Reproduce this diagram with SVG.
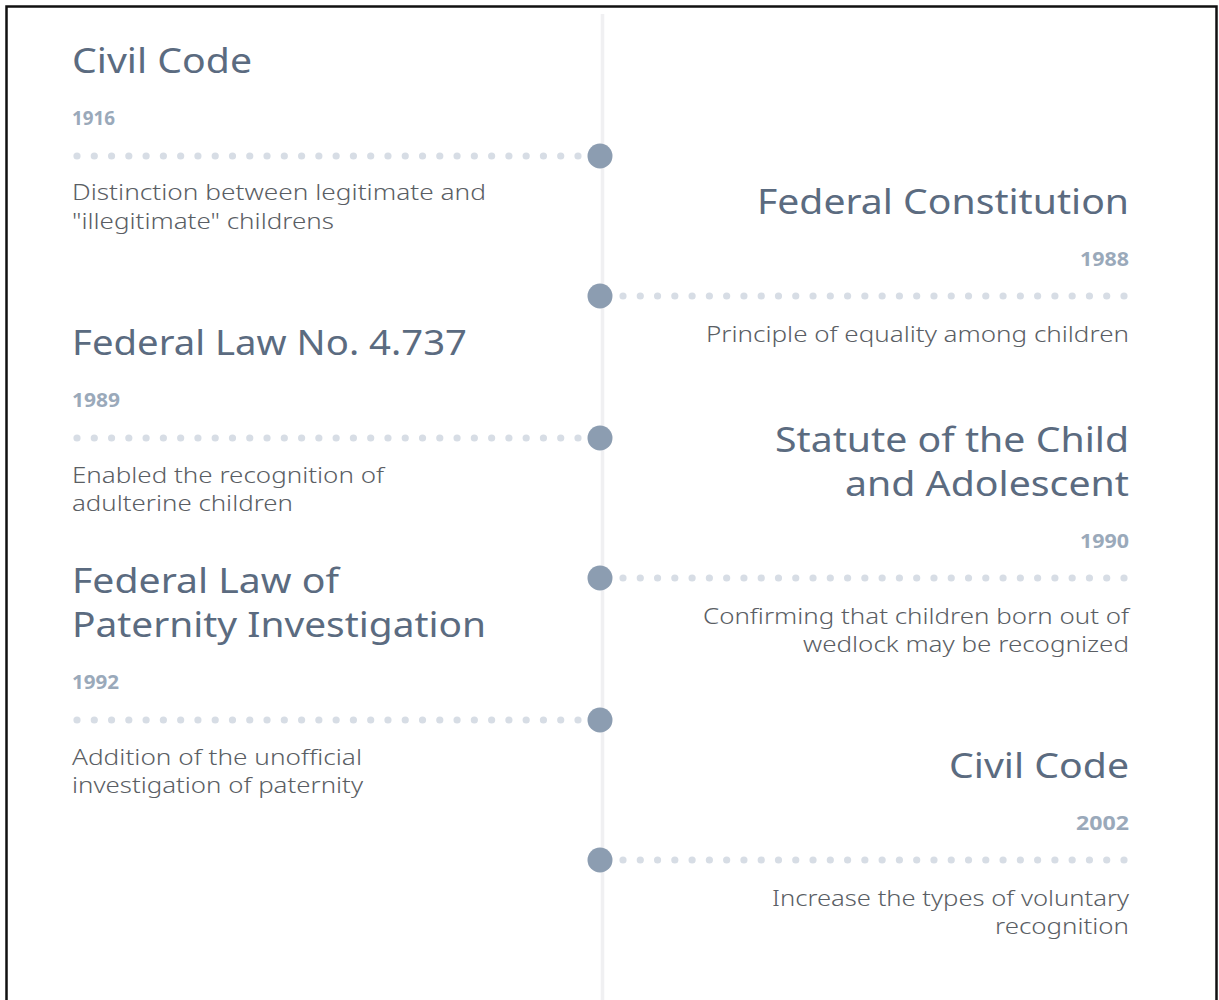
<svg xmlns="http://www.w3.org/2000/svg" width="1219" height="1000" viewBox="0 0 1219 1000">
<style>
.t{font-family:"Noto Sans","Liberation Sans",sans-serif;font-size:34px;fill:#5b6b80}
.y{font-family:"Noto Sans","Liberation Sans",sans-serif;font-size:19px;font-weight:700;fill:#9aa9ba}
.d{font-family:"Noto Sans","Liberation Sans",sans-serif;font-size:22px;font-weight:300;fill:#5a5e64}
.r{text-anchor:end}
.dot{fill:#d7dde5}
.hub{fill:#8c9db1}
</style>
<defs>
<g id="dotrow">
<circle class="dot" cx="0" cy="0" r="3.6"/><circle class="dot" cx="17.28" cy="0" r="3.6"/><circle class="dot" cx="34.55" cy="0" r="3.6"/><circle class="dot" cx="51.83" cy="0" r="3.6"/><circle class="dot" cx="69.1" cy="0" r="3.6"/><circle class="dot" cx="86.38" cy="0" r="3.6"/><circle class="dot" cx="103.66" cy="0" r="3.6"/><circle class="dot" cx="120.93" cy="0" r="3.6"/><circle class="dot" cx="138.21" cy="0" r="3.6"/><circle class="dot" cx="155.48" cy="0" r="3.6"/><circle class="dot" cx="172.76" cy="0" r="3.6"/><circle class="dot" cx="190.03" cy="0" r="3.6"/><circle class="dot" cx="207.31" cy="0" r="3.6"/><circle class="dot" cx="224.59" cy="0" r="3.6"/><circle class="dot" cx="241.86" cy="0" r="3.6"/><circle class="dot" cx="259.14" cy="0" r="3.6"/><circle class="dot" cx="276.41" cy="0" r="3.6"/><circle class="dot" cx="293.69" cy="0" r="3.6"/><circle class="dot" cx="310.97" cy="0" r="3.6"/><circle class="dot" cx="328.24" cy="0" r="3.6"/><circle class="dot" cx="345.52" cy="0" r="3.6"/><circle class="dot" cx="362.79" cy="0" r="3.6"/><circle class="dot" cx="380.07" cy="0" r="3.6"/><circle class="dot" cx="397.34" cy="0" r="3.6"/><circle class="dot" cx="414.62" cy="0" r="3.6"/><circle class="dot" cx="431.9" cy="0" r="3.6"/><circle class="dot" cx="449.17" cy="0" r="3.6"/><circle class="dot" cx="466.45" cy="0" r="3.6"/><circle class="dot" cx="483.72" cy="0" r="3.6"/><circle class="dot" cx="501" cy="0" r="3.6"/>
</g>
</defs>
<rect x="0" y="0" width="1219" height="1000" fill="#ffffff"/>
<path d="M6.5 1000 V6.5 H1216.5 V1000" fill="none" stroke="#111" stroke-width="2.5"/>
<g id="connectors">
<line x1="602.5" y1="14" x2="602.5" y2="1000" stroke="#f0f0f2" stroke-width="3.5"/>
<use href="#dotrow" x="77" y="156"/>
<use href="#dotrow" x="623" y="296"/>
<use href="#dotrow" x="77" y="438"/>
<use href="#dotrow" x="623" y="578"/>
<use href="#dotrow" x="77" y="720"/>
<use href="#dotrow" x="623" y="860"/>
</g>
<g id="civil-code-1916">
<circle class="hub" cx="600" cy="156" r="12.5"/>
<text class="t" x="72" y="73" textLength="180" lengthAdjust="spacingAndGlyphs">Civil Code</text>
<text class="y" x="72" y="125" textLength="43" lengthAdjust="spacingAndGlyphs">1916</text>
<text class="d" x="72" y="200" textLength="414" lengthAdjust="spacingAndGlyphs">Distinction between legitimate and</text>
<text class="d" x="72" y="229" textLength="262" lengthAdjust="spacingAndGlyphs">"illegitimate" childrens</text>
</g>
<g id="federal-constitution-1988">
<circle class="hub" cx="600" cy="296" r="12.5"/>
<text class="t r" x="1129" y="214" textLength="372" lengthAdjust="spacingAndGlyphs">Federal Constitution</text>
<text class="y r" x="1129" y="266" textLength="49" lengthAdjust="spacingAndGlyphs">1988</text>
<text class="d r" x="1129" y="342" textLength="423" lengthAdjust="spacingAndGlyphs">Principle of equality among children</text>
</g>
<g id="federal-law-4737-1989">
<circle class="hub" cx="600" cy="438" r="12.5"/>
<text class="t" x="72" y="355" textLength="395" lengthAdjust="spacingAndGlyphs">Federal Law No. 4.737</text>
<text class="y" x="72" y="407" textLength="48" lengthAdjust="spacingAndGlyphs">1989</text>
<text class="d" x="72" y="483" textLength="312" lengthAdjust="spacingAndGlyphs">Enabled the recognition of</text>
<text class="d" x="72" y="511" textLength="221" lengthAdjust="spacingAndGlyphs">adulterine children</text>
</g>
<g id="statute-child-adolescent-1990">
<circle class="hub" cx="600" cy="578" r="12.5"/>
<text class="t r" x="1129" y="452" textLength="354" lengthAdjust="spacingAndGlyphs">Statute of the Child</text>
<text class="t r" x="1129" y="496" textLength="284" lengthAdjust="spacingAndGlyphs">and Adolescent</text>
<text class="y r" x="1129" y="548" textLength="49" lengthAdjust="spacingAndGlyphs">1990</text>
<text class="d r" x="1129" y="624" textLength="426" lengthAdjust="spacingAndGlyphs">Confirming that children born out of</text>
<text class="d r" x="1129" y="652" textLength="326" lengthAdjust="spacingAndGlyphs">wedlock may be recognized</text>
</g>
<g id="paternity-investigation-1992">
<circle class="hub" cx="600" cy="720" r="12.5"/>
<text class="t" x="72" y="593" textLength="267" lengthAdjust="spacingAndGlyphs">Federal Law of</text>
<text class="t" x="72" y="637" textLength="414" lengthAdjust="spacingAndGlyphs">Paternity Investigation</text>
<text class="y" x="72" y="689" textLength="47" lengthAdjust="spacingAndGlyphs">1992</text>
<text class="d" x="72" y="765" textLength="290" lengthAdjust="spacingAndGlyphs">Addition of the unofficial</text>
<text class="d" x="72" y="793" textLength="291" lengthAdjust="spacingAndGlyphs">investigation of paternity</text>
</g>
<g id="civil-code-2002">
<circle class="hub" cx="600" cy="860" r="12.5"/>
<text class="t r" x="1129" y="778" textLength="180" lengthAdjust="spacingAndGlyphs">Civil Code</text>
<text class="y r" x="1129" y="830" textLength="53" lengthAdjust="spacingAndGlyphs">2002</text>
<text class="d r" x="1129" y="906" textLength="357" lengthAdjust="spacingAndGlyphs">Increase the types of voluntary</text>
<text class="d r" x="1129" y="934" textLength="134" lengthAdjust="spacingAndGlyphs">recognition</text>
</g>
</svg>
